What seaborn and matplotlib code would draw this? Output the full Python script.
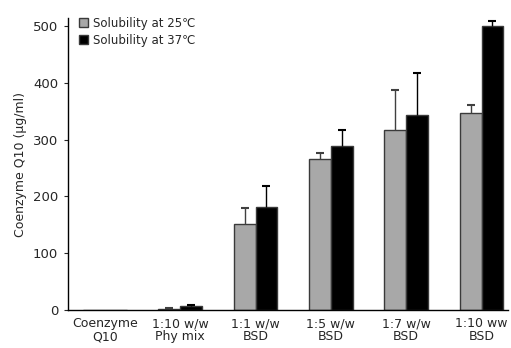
import pandas as pd
import matplotlib
matplotlib.use('Agg')
import matplotlib.pyplot as plt
import seaborn as sns

# 数据
groups = ['Coenzyme\nQ10', '1:10 w/w\nPhy mix', '1:1 w/w\nBSD', '1:5 w/w\nBSD', '1:7 w/w\nBSD', '1:10 ww\nBSD']
temps = ['Solubility at 25\u2103', 'Solubility at 37\u2103']
sol_25 = [0, 2.5, 151, 266, 317, 347]
sol_37 = [0, 7.5, 181, 289, 343, 500]
err_25 = [0, 1, 29, 10, 70, 14]
err_37 = [0, 1.5, 37, 28, 75, 9]

sns.set_style('white')
plt.rcParams['font.family'] = ['DejaVu Sans']
plt.rcParams['font.size'] = 9

df = pd.DataFrame({
    'group': groups * 2,
    'temp': [temps[0]] * len(groups) + [temps[1]] * len(groups),
    'value': sol_25 + sol_37,
})

fig = plt.figure(figsize=(5.11, 3.48), dpi=100)
ax = fig.add_axes([0.133, 0.109, 0.861, 0.839])

sns.barplot(data=df, x='group', y='value', hue='temp', palette=['#a8a8a8', '#000000'],
            width=0.58, edgecolor='#3a3a3a', linewidth=1, errorbar=None, ax=ax)

# 误差线（只画上方）
for cont, errs, col in zip(ax.containers, [err_25, err_37], ['#404040', '#000000']):
    for bar, e in zip(cont, errs):
        if e <= 0:
            continue
        xc = bar.get_x() + bar.get_width() / 2
        h = bar.get_height()
        ax.vlines(xc, h, h + e, colors=col, linewidth=1)
        ax.plot([xc], [h + e], marker='_', markersize=6, markeredgewidth=1.5, color=col)

ax.set_ylim(0, 514)
ax.set_xlim(-0.49, 5.35)
ax.set_yticks([0, 100, 200, 300, 400, 500])
ax.set_xlabel('')
ax.set_ylabel('Coenzyme Q10 (\u03bcg/ml)', fontsize=9)
ax.tick_params(axis='x', length=0, pad=5, labelsize=9)
ax.tick_params(axis='y', length=3, direction='out', left=True, pad=4, labelsize=9.5)
for lab in ax.get_xticklabels():
    lab.set_linespacing(1.0)
sns.despine(ax=ax)
for s in ['left', 'bottom']:
    ax.spines[s].set_color('black')
    ax.spines[s].set_linewidth(1)

ax.legend(loc='upper left', bbox_to_anchor=(0.0, 1.04), frameon=False,
          handlelength=0.8, handleheight=0.8, handletextpad=0.4,
          labelspacing=0.3, fontsize=8.5)

fig.savefig('out.png', dpi=100)
